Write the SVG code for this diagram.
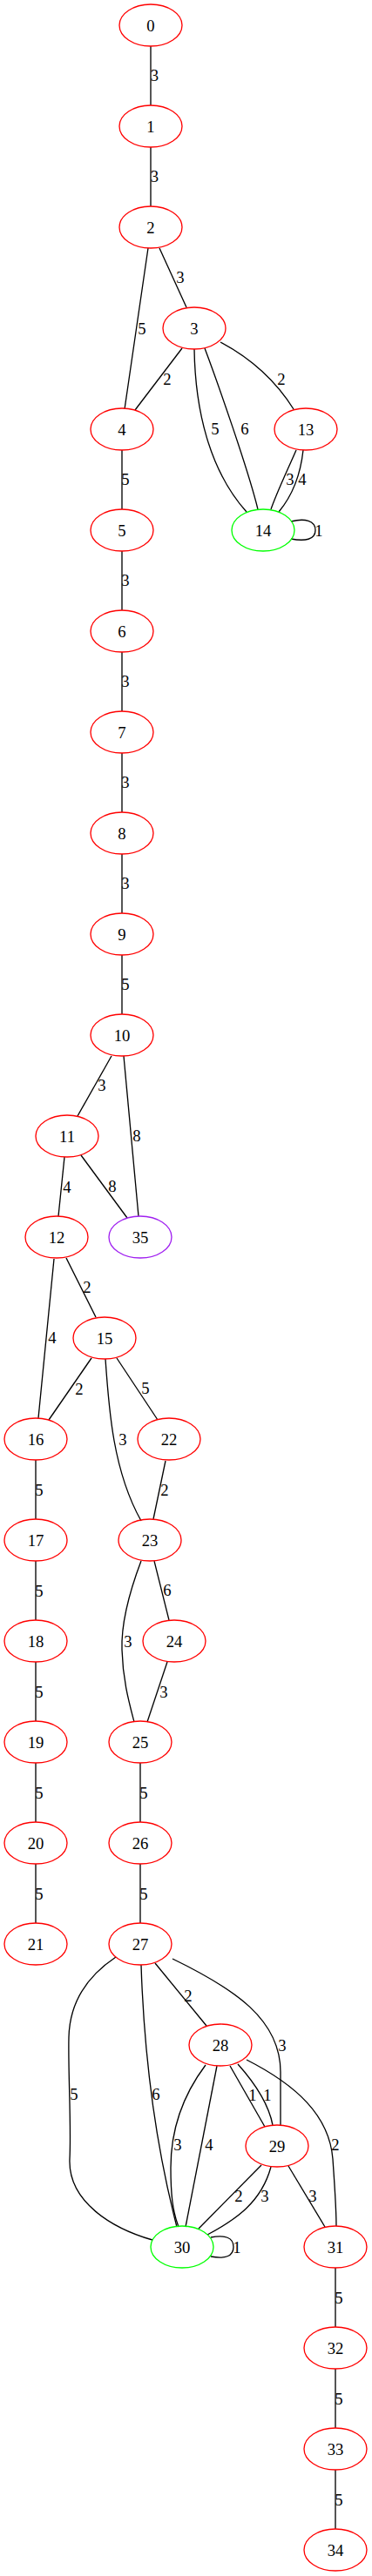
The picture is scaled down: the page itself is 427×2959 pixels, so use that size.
<svg xmlns="http://www.w3.org/2000/svg" width="427" height="2959" viewBox="0 0 427 2959">
<style>
.n ellipse{fill:none;stroke:#ff0000;stroke-width:1.33}
.n.g ellipse{stroke:#00ff00}
.n.p ellipse{stroke:#a020f0}
text{font-family:"Liberation Serif","Times New Roman",serif;font-size:18.67px;text-anchor:middle;fill:#000}
#edges path{fill:none;stroke:#000;stroke-width:1.33}
</style>
<rect width="427" height="2959" fill="#fff"/>
<g id="edges">
<path d="M173,53 L173,121"/><text x="177.5" y="92.5">3</text>
<path d="M173,169 L173,237"/><text x="177.5" y="208.5">3</text>
<path d="M170,285 L143,470"/><text x="163" y="383.5">5</text>
<path d="M183,285 L214,353"/><text x="207" y="324.5">3</text>
<path d="M209,400 L155,471"/><text x="192" y="441.5">2</text>
<path d="M223,401 C224,470 240,540 283,588"/><text x="247" y="498.5">5</text>
<path d="M235,400 C250,440 285,540 296,585"/><text x="281" y="498.5">6</text>
<path d="M253,393 C285,410 315,435 337,470"/><text x="323" y="441.5">2</text>
<path d="M340,517 C330,540 318,565 311,585"/><text x="333" y="556.5">3</text>
<path d="M348,517 C345,545 335,570 320,588"/><text x="347" y="556.5">4</text>
<path d="M334,599 C350,595 362,598 362,609 C362,620 350,622 334,619"/><text x="366" y="615.5">1</text>
<path d="M140,517 L140,585"/><text x="144" y="557">5</text>
<path d="M140,633 L140,701"/><text x="144" y="672.5">3</text>
<path d="M140,749 L140,817"/><text x="144" y="788.5">3</text>
<path d="M140,865 L140,933"/><text x="144" y="904.5">3</text>
<path d="M140,981 L140,1049"/><text x="144" y="1020.5">3</text>
<path d="M140,1097 L140,1165"/><text x="144" y="1136.5">5</text>
<path d="M128,1213 L89,1282"/><text x="117" y="1252.5">3</text>
<path d="M142,1213 L159,1397"/><text x="157" y="1310.5">8</text>
<path d="M74,1329 L67,1397"/><text x="77" y="1369.5">4</text>
<path d="M93,1327 L146,1399"/><text x="129" y="1368.5">8</text>
<path d="M62,1446 L44,1629"/><text x="60" y="1542.5">4</text>
<path d="M76,1445 L110,1513"/><text x="100" y="1484.5">2</text>
<path d="M105,1560 L56,1631"/><text x="91" y="1601.5">2</text>
<path d="M121,1561 C125,1620 130,1690 162,1747"/><text x="141" y="1659.5">3</text>
<path d="M134,1560 L181,1631"/><text x="167" y="1600.5">5</text>
<path d="M190,1678 L176,1745"/><text x="189" y="1717.5">2</text>
<path d="M41,1677 L41,1745"/><text x="45" y="1717.5">5</text>
<path d="M41,1793 L41,1861"/><text x="45" y="1833.5">5</text>
<path d="M41,1909 L41,1977"/><text x="45" y="1949.5">5</text>
<path d="M41,2025 L41,2093"/><text x="45" y="2065.5">5</text>
<path d="M41,2141 L41,2209"/><text x="45" y="2181.5">5</text>
<path d="M162,1793 C148,1830 139,1865 140,1895 C141,1930 148,1955 154,1978"/><text x="147" y="1891.5">3</text>
<path d="M177,1793 L194,1861"/><text x="192" y="1832.5">6</text>
<path d="M192,1909 L169,1978"/><text x="188" y="1949.5">3</text>
<path d="M161,2025 L161,2093"/><text x="165" y="2065.5">5</text>
<path d="M161,2141 L161,2209"/><text x="165" y="2181.5">5</text>
<path d="M133,2248 C100,2270 80,2300 79,2340 C78,2380 82,2440 80,2480 C78,2530 130,2560 175,2573"/><text x="85" y="2411.5">5</text>
<path d="M162,2257 C165,2350 175,2450 203,2558"/><text x="179" y="2411.5">6</text>
<path d="M178,2255 L237,2327"/><text x="216" y="2298.5">2</text>
<path d="M198,2250 C270,2285 322,2320 322,2380 L322,2442"/><text x="324" y="2355.5">3</text>
<path d="M236,2372 C215,2400 196,2440 196,2490 C196,2520 198,2540 205,2558"/><text x="204" y="2469.5">3</text>
<path d="M249,2373 L213,2558"/><text x="240" y="2469.5">4</text>
<path d="M264,2373 L304,2443"/><text x="290" y="2412.5">1</text>
<path d="M273,2371 C290,2390 308,2415 313,2441"/><text x="307" y="2412.5">1</text>
<path d="M283,2366 C340,2395 378,2430 382,2480 C384,2510 386,2535 386,2557"/><text x="385" y="2469.5">2</text>
<path d="M300,2487 L228,2560"/><text x="274" y="2528.5">2</text>
<path d="M311,2489 C300,2530 270,2550 238,2567"/><text x="304" y="2528.5">3</text>
<path d="M331,2488 L373,2558"/><text x="359" y="2528.5">3</text>
<path d="M242,2570 C258,2567 268,2570 268,2581 C268,2592 258,2595 242,2592"/><text x="272" y="2587.5">1</text>
<path d="M385,2605 L385,2673"/><text x="389" y="2645.5">5</text>
<path d="M385,2721 L385,2789"/><text x="389" y="2761.5">5</text>
<path d="M385,2837 L385,2905"/><text x="389" y="2877.5">5</text>
</g>
<g id="node0" class="n"><ellipse cx="173" cy="29" rx="36" ry="24"/><text x="173" y="35.5">0</text></g>
<g id="node1" class="n"><ellipse cx="173" cy="145" rx="36" ry="24"/><text x="173" y="151.5">1</text></g>
<g id="node2" class="n"><ellipse cx="173" cy="261" rx="36" ry="24"/><text x="173" y="267.5">2</text></g>
<g id="node3" class="n"><ellipse cx="223" cy="377" rx="36" ry="24"/><text x="223" y="383.5">3</text></g>
<g id="node4" class="n"><ellipse cx="140" cy="493" rx="36" ry="24"/><text x="140" y="499.5">4</text></g>
<g id="node13" class="n"><ellipse cx="351" cy="493" rx="36" ry="24"/><text x="351" y="499.5">13</text></g>
<g id="node5" class="n"><ellipse cx="140" cy="609" rx="36" ry="24"/><text x="140" y="615.5">5</text></g>
<g id="node14" class="n g"><ellipse cx="302" cy="609" rx="36" ry="24"/><text x="302" y="615.5">14</text></g>
<g id="node6" class="n"><ellipse cx="140" cy="725" rx="36" ry="24"/><text x="140" y="731.5">6</text></g>
<g id="node7" class="n"><ellipse cx="140" cy="841" rx="36" ry="24"/><text x="140" y="847.5">7</text></g>
<g id="node8" class="n"><ellipse cx="140" cy="957" rx="36" ry="24"/><text x="140" y="963.5">8</text></g>
<g id="node9" class="n"><ellipse cx="140" cy="1073" rx="36" ry="24"/><text x="140" y="1079.5">9</text></g>
<g id="node10" class="n"><ellipse cx="140" cy="1189" rx="36" ry="24"/><text x="140" y="1195.5">10</text></g>
<g id="node11" class="n"><ellipse cx="77" cy="1305" rx="36" ry="24"/><text x="77" y="1311.5">11</text></g>
<g id="node12" class="n"><ellipse cx="65" cy="1421" rx="36" ry="24"/><text x="65" y="1427.5">12</text></g>
<g id="node35" class="n p"><ellipse cx="161" cy="1421" rx="36" ry="24"/><text x="161" y="1427.5">35</text></g>
<g id="node15" class="n"><ellipse cx="120" cy="1537" rx="36" ry="24"/><text x="120" y="1543.5">15</text></g>
<g id="node16" class="n"><ellipse cx="41" cy="1653" rx="36" ry="24"/><text x="41" y="1659.5">16</text></g>
<g id="node22" class="n"><ellipse cx="194" cy="1653" rx="36" ry="24"/><text x="194" y="1659.5">22</text></g>
<g id="node17" class="n"><ellipse cx="41" cy="1769" rx="36" ry="24"/><text x="41" y="1775.5">17</text></g>
<g id="node23" class="n"><ellipse cx="172" cy="1769" rx="36" ry="24"/><text x="172" y="1775.5">23</text></g>
<g id="node18" class="n"><ellipse cx="41" cy="1885" rx="36" ry="24"/><text x="41" y="1891.5">18</text></g>
<g id="node24" class="n"><ellipse cx="200" cy="1885" rx="36" ry="24"/><text x="200" y="1891.5">24</text></g>
<g id="node19" class="n"><ellipse cx="41" cy="2001" rx="36" ry="24"/><text x="41" y="2007.5">19</text></g>
<g id="node25" class="n"><ellipse cx="161" cy="2001" rx="36" ry="24"/><text x="161" y="2007.5">25</text></g>
<g id="node20" class="n"><ellipse cx="41" cy="2117" rx="36" ry="24"/><text x="41" y="2123.5">20</text></g>
<g id="node26" class="n"><ellipse cx="161" cy="2117" rx="36" ry="24"/><text x="161" y="2123.5">26</text></g>
<g id="node21" class="n"><ellipse cx="41" cy="2233" rx="36" ry="24"/><text x="41" y="2239.5">21</text></g>
<g id="node27" class="n"><ellipse cx="161" cy="2233" rx="36" ry="24"/><text x="161" y="2239.5">27</text></g>
<g id="node28" class="n"><ellipse cx="253" cy="2349" rx="36" ry="24"/><text x="253" y="2355.5">28</text></g>
<g id="node29" class="n"><ellipse cx="318" cy="2465" rx="36" ry="24"/><text x="318" y="2471.5">29</text></g>
<g id="node30" class="n g"><ellipse cx="209" cy="2581" rx="36" ry="24"/><text x="209" y="2587.5">30</text></g>
<g id="node31" class="n"><ellipse cx="385" cy="2581" rx="36" ry="24"/><text x="385" y="2587.5">31</text></g>
<g id="node32" class="n"><ellipse cx="385" cy="2697" rx="36" ry="24"/><text x="385" y="2703.5">32</text></g>
<g id="node33" class="n"><ellipse cx="385" cy="2813" rx="36" ry="24"/><text x="385" y="2819.5">33</text></g>
<g id="node34" class="n"><ellipse cx="385" cy="2929" rx="36" ry="24"/><text x="385" y="2935.5">34</text></g>
</svg>
